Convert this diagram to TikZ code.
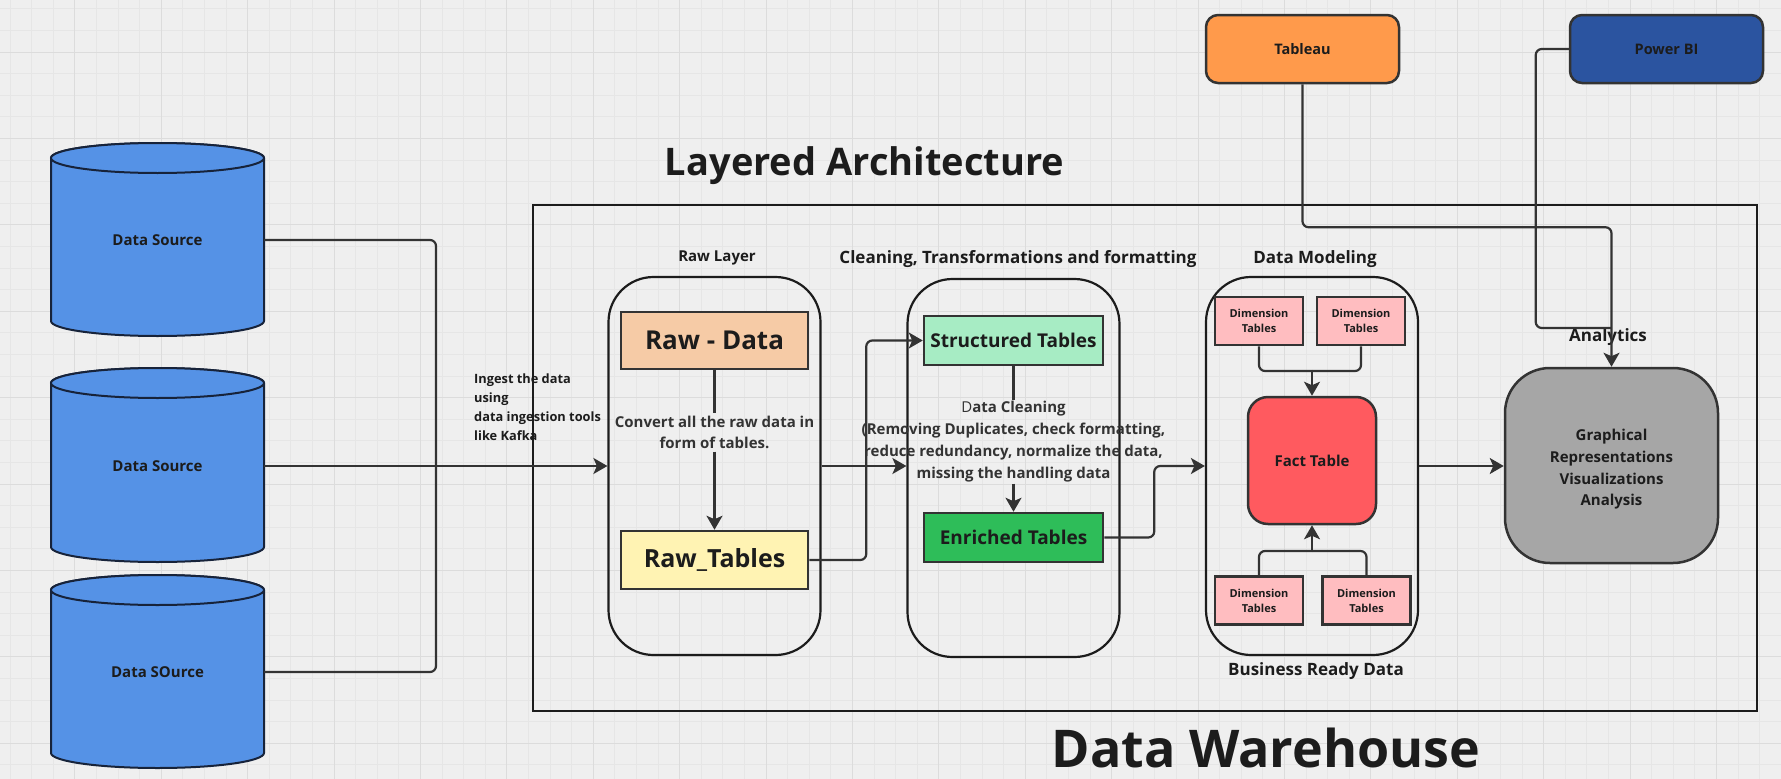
\documentclass[tikz,border=0pt]{standalone}
\usepackage{fontspec}
\setmainfont{Open Sans}
\usetikzlibrary{arrows.meta,calc}
\definecolor{bgc}{HTML}{EFEFEF}
\definecolor{gridminor}{HTML}{E6E6E6}
\definecolor{gridmajor}{HTML}{DCDCDC}
\definecolor{linec}{HTML}{333333}
\definecolor{inkc}{HTML}{1C1C1C}
\definecolor{cylblue}{HTML}{5592E6}
\definecolor{cyledge}{HTML}{17233A}
\definecolor{peach}{HTML}{F6CBA6}
\definecolor{lightyellow}{HTML}{FFF3B3}
\definecolor{mint}{HTML}{A7ECC4}
\definecolor{green2}{HTML}{2EBD59}
\definecolor{pinkdim}{HTML}{FFBDC0}
\definecolor{factred}{HTML}{FF5A5F}
\definecolor{graybox}{HTML}{A6A6A6}
\definecolor{tabor}{HTML}{FF9A4B}
\definecolor{pbiblue}{HTML}{2B54A0}
\newcommand{\fsz}[2]{\fontsize{#1}{#2}\selectfont}
\newcommand{\dbcyl}[3]{%
  \path[fill=cylblue,draw=cyledge,line width=2pt]
    ({#1-106.5},#2) -- ({#1-106.5},#3)
    arc[start angle=180,end angle=360,x radius=106.5pt,y radius=15pt]
    -- ({#1+106.5},#2)
    arc[start angle=0,end angle=180,x radius=106.5pt,y radius=15pt] -- cycle;
  \draw[fill=cylblue,draw=cyledge,line width=2pt] (#1,#2) ellipse[x radius=106.5pt,y radius=15pt];}
\begin{document}
\begin{tikzpicture}[x=1pt,y=-1pt,
  every node/.style={text=inkc,font=\bfseries},
  conn/.style={draw=linec,line width=2.2pt,rounded corners=6pt},
  arr/.style={conn,-{Stealth[length=14pt,width=16pt,inset=3.5pt]}},
  cylabel/.style={minimum width=213pt,minimum height=20pt,inner sep=0pt,font=\bfseries\fsz{15}{18}},
  cont/.style={draw=inkc,line width=2.2pt,rounded corners=45pt,minimum width=212pt,minimum height=378pt,inner sep=0pt},
  tbox/.style={draw=linec,line width=2.5pt,inner sep=0pt},
  dimbox/.style={tbox,fill=pinkdim,minimum width=88pt,minimum height=48pt,align=center,font=\bfseries\fsz{11}{15}},
  lbl/.style={inner sep=0pt},
  ]
\useasboundingbox (0,0) rectangle (1781,779);
\fill[bgc] (0,0) rectangle (1781,779);
\foreach \i in {0,...,82} \draw[gridminor,line width=0.8pt] ({10+21.6*\i},0) -- ({10+21.6*\i},779);
\foreach \i in {0,...,36} \draw[gridminor,line width=0.8pt] (0,{8.8+21.6*\i}) -- (1781,{8.8+21.6*\i});
\foreach \i in {0,...,20} \draw[gridmajor,line width=1pt] ({74.8+86.4*\i},0) -- ({74.8+86.4*\i},779);
\foreach \i in {0,...,8} \draw[gridmajor,line width=1pt] (0,{52+86.4*\i}) -- (1781,{52+86.4*\i});

% titles
\node[lbl,font=\bfseries\fsz{38}{44}] (title) at (864.5,166) {Layered Architecture};
\node[lbl,font=\bfseries\fsz{52}{60}] (dwh) at (1266,748) {Data Warehouse};

% outer warehouse frame
\draw[draw=inkc,line width=2.5pt] (533,205) rectangle (1757,711);

% cylinders
\dbcyl{157.5}{158}{321}
\dbcyl{157.5}{383}{547}
\dbcyl{157.5}{590}{753}
\node[cylabel] (cs1) at (157.5,240) {Data Source};
\node[cylabel] (cs2) at (157.5,466) {Data Source};
\node[cylabel] (cs3) at (157.5,672) {Data SOurce};

% containers
\node[cont] (rawlayer) at (714.5,466) {};
\node[cont] (clean) at (1013.5,468) {};
\node[cont] (dm) at (1312,466) {};

\node[lbl,font=\bfseries\fsz{15}{18}] (rawlbl) at (717,258) {Raw Layer};
\node[lbl,font=\bfseries\fsz{17}{20}] (cleanlbl) at (1018,259) {Cleaning, Transformations and formatting};
\node[lbl,font=\bfseries\fsz{17}{20}] (dmlbl) at (1315,259) {Data Modeling};
\node[lbl,font=\bfseries\fsz{17}{20}] (brd) at (1316,671) {Business Ready Data};

% ingest text
\node[lbl,anchor=north west,align=left,font=\bfseries\fsz{12.8}{19},text=inkc] (ingest) at (474,374)
  {Ingest the data\\using\\data ingestion tools\\like Kafka};

% raw layer boxes
\node[tbox,fill=peach,minimum width=187pt,minimum height=57pt,font=\bfseries\fsz{26}{30}] (rawdata) at (714.5,340.5) {Raw - Data};
\node[tbox,fill=lightyellow,minimum width=187pt,minimum height=58pt,font=\bfseries\fsz{25}{30}] (rawtables) at (714.5,560) {Raw\_Tables};
\node[align=center,inner xsep=0pt,inner ysep=3pt,font=\bfseries\fsz{15}{21},text=linec] (convtxt) at (714.5,432)
  {Convert all the raw data in\\form of tables.};

% cleaning boxes
\node[tbox,fill=mint,minimum width=179pt,minimum height=49pt,font=\bfseries\fsz{19}{23}] (structured) at (1013.5,340.5) {Structured Tables};
\node[tbox,fill=green2,minimum width=179pt,minimum height=49pt,font=\bfseries\fsz{19}{23}] (enriched) at (1013.5,537.5) {Enriched Tables};
\node[align=center,inner xsep=0pt,inner ysep=1pt,font=\bfseries\fsz{15}{22},text=linec] (cleantxt) at (1013.5,442)
  {{\mdseries D}ata Cleaning\\(Removing Duplicates, check formatting,\\reduce redundancy, normalize the data,\\missing the handling data};

% data modeling boxes
\node[dimbox] (dimtl) at (1259,321) {Dimension\\Tables};
\node[dimbox] (dimtr) at (1361,321) {Dimension\\Tables};
\node[dimbox] (dimbl) at (1259,600.5) {Dimension\\Tables};
\node[dimbox] (dimbr) at (1366.5,600.5) {Dimension\\Tables};
\node[tbox,fill=factred,rounded corners=20pt,minimum width=128pt,minimum height=127pt,font=\bfseries\fsz{15}{18}] (fact) at (1312,460.5) {Fact Table};

% analytics
\node[tbox,fill=graybox,rounded corners=45pt,minimum width=213pt,minimum height=195pt] (analytics) at (1611.5,465.5) {};
\node[align=center,inner sep=0pt,font=\bfseries\fsz{15}{21.7}] (antxt) at (1611.5,469.5)
  {Graphical\\Representations\\Visualizations\\Analysis};
\node[lbl,font=\bfseries\fsz{17}{20}] (anlbl) at (1608,337) {Analytics};

% BI tools
\node[tbox,fill=tabor,rounded corners=12pt,minimum width=193pt,minimum height=68pt,font=\bfseries\fsz{14.5}{18}] (tableau) at (1302.5,49) {Tableau};
\node[tbox,fill=pbiblue,rounded corners=12pt,minimum width=193pt,minimum height=68pt,font=\bfseries\fsz{14.5}{18}] (powerbi) at (1666.5,49) {Power BI};

% junction coordinates
\coordinate (jin) at (436,466);
\coordinate (dtop) at (1312,371);
\coordinate (dbot) at (1312,551);
\coordinate (pbij) at (1611.5,328);

% ingestion connectors
\draw[conn] (cs1.east) -| (jin);
\draw[conn] (cs3.east) -| (jin);
\draw[arr] (cs2.east) -- (rawlayer.west);

% raw layer internals
\draw[conn] (rawdata.south) -- (convtxt.north);
\draw[arr] (convtxt.south) -- (rawtables.north);

% raw -> cleaning
\draw[arr] (rawlayer.east) -- (rawlayer.east -| clean.west);
\draw[arr] (rawtables.east) -- ++(57,0) |- (structured.west);

% cleaning internals
\draw[conn] (structured.south) -- (cleantxt.north);
\draw[arr] (cleantxt.south) -- (enriched.north);

% cleaning -> modeling
\draw[arr] (enriched.east) -- ++(50,0) |- (dm.west);

% dimension connectors
\draw[conn] (dimtl.south) |- (dtop);
\draw[conn] (dimtr.south) |- (dtop);
\draw[arr] (dtop) -- (fact.north);
\draw[conn] (dimbl.north) |- (dbot);
\draw[conn] (dimbr.north) |- (dbot);
\draw[arr] (dbot) -- (fact.south);

% modeling -> analytics
\draw[arr] (dm.east) -- (dm.east -| analytics.west);

% BI tools -> analytics
\draw[arr] (tableau.south) -- ++(0,143) -| (analytics.north);
\draw[conn] (powerbi.west) -- ++(-33,0) |- (pbij);
\end{tikzpicture}
\end{document}
